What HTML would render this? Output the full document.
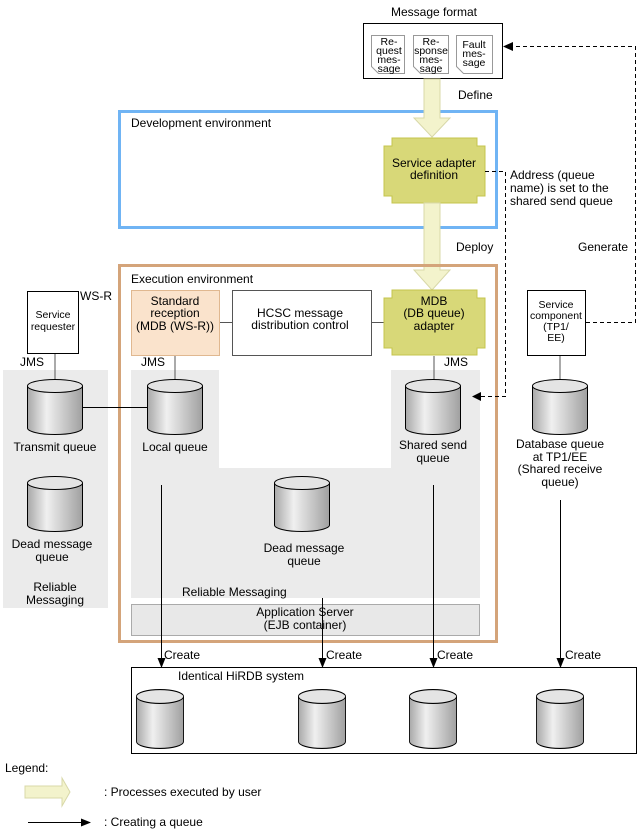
<!DOCTYPE html>
<html><head><meta charset="utf-8"><style>
html,body{margin:0;padding:0;background:#fff}
svg{display:block;font-family:"Liberation Sans",Arial,sans-serif;font-size:12px}
</style></head><body>
<svg width="639" height="831" viewBox="0 0 639 831" xmlns="http://www.w3.org/2000/svg">
<defs>
<linearGradient id="cg" x1="0" x2="1" y1="0" y2="0">
<stop offset="0" stop-color="#a8a8a8"/><stop offset="0.35" stop-color="#f0f0f0"/><stop offset="1" stop-color="#a0a0a0"/>
</linearGradient>
<marker id="ah" markerWidth="10" markerHeight="8" refX="9" refY="4" orient="auto" markerUnits="userSpaceOnUse"><path d="M0,0 L10,4 L0,8 z" fill="#000"/></marker>
<symbol id="cyl" viewBox="0 0 56 56" overflow="visible" preserveAspectRatio="none">
<path d="M0.5,7 L0.5,49 A27.5,6.5 0 0 0 55.5,49 L55.5,7" fill="url(#cg)" stroke="#000" stroke-width="1"/>
<ellipse cx="28" cy="7" rx="27.5" ry="6.5" fill="#e4e4e4" stroke="#000" stroke-width="1"/>
</symbol>
</defs>

<!-- Message format -->
<text x="434" y="16" text-anchor="middle">Message format</text>
<rect x="363.5" y="23.5" width="139" height="55" fill="#fff" stroke="#000"/>
<g fill="#fff" stroke="#999" stroke-width="1">
<path d="M371.5,35.5 H404.5 V73.5 H378.5 L371.5,66.5 Z"/>
<path d="M413.5,35.5 H448.5 V73.5 H420.5 L413.5,66.5 Z"/>
<path d="M456.5,35.5 H492.5 V73.5 H463.5 L456.5,66.5 Z"/>
</g>
<g font-size="10.5" text-anchor="middle">
<text x="389" y="45">Re-</text><text x="389" y="54">quest</text><text x="389" y="63">mes-</text><text x="389" y="72">sage</text>
<text x="431" y="45">Re-</text><text x="431" y="54">sponse</text><text x="431" y="63">mes-</text><text x="431" y="72">sage</text>
<text x="474" y="48">Fault</text><text x="474" y="57">mes-</text><text x="474" y="66">sage</text>
</g>

<!-- Dev env -->
<rect x="119.5" y="111.5" width="377" height="116" fill="none" stroke="#70b4f4" stroke-width="3"/>
<text x="131" y="127">Development environment</text>

<!-- Define arrow -->
<path d="M424,79 H440 V118 H450 L432,137 L414,118 H424 Z" fill="#f3f3cc" stroke="#d8d8a8"/>
<text x="458" y="99">Define</text>

<!-- Service adapter definition -->
<path d="M392,138 H477 V146 H485 V196 H477 V203 H392 V196 H384 V146 H392 Z" fill="#d8d878" stroke="#c4c44c"/>
<text x="434" y="167" text-anchor="middle">Service adapter</text>
<text x="434" y="179" text-anchor="middle">definition</text>

<!-- Deploy arrow -->
<path d="M424,203 H440 V270 H450 L432,290 L414,270 H424 Z" fill="#f3f3cc" stroke="#d8d8a8"/>
<text x="456" y="251">Deploy</text>
<text x="578" y="251">Generate</text>

<text x="510" y="179">Address (queue</text>
<text x="510" y="192">name) is set to the</text>
<text x="510" y="205">shared send queue</text>

<!-- Exec env -->
<rect x="119.5" y="265.5" width="377" height="376" fill="none" stroke="#d4a47a" stroke-width="3"/>
<text x="131" y="283">Execution environment</text>

<!-- gray inner regions -->
<path d="M131,370 H219 V468 H391 V370 H480 V598 H131 Z" fill="#ebebeb"/>
<rect x="3" y="370" width="105" height="238" fill="#ebebeb"/>
<rect x="131.5" y="604.5" width="348" height="31" fill="#e8e8e8" stroke="#aaa"/>
<text x="305" y="616" text-anchor="middle">Application Server</text>
<text x="305" y="629" text-anchor="middle">(EJB container)</text>
<text x="182" y="596">Reliable Messaging</text>

<!-- boxes -->
<rect x="131.5" y="290.5" width="88" height="65" fill="#fae3cc" stroke="#e0b890"/>
<text x="175" y="305" text-anchor="middle">Standard</text>
<text x="175" y="317" text-anchor="middle">reception</text>
<text x="175" y="330" text-anchor="middle">(MDB (WS-R))</text>
<line x1="220" y1="322.5" x2="232" y2="322.5" stroke="#555"/>
<rect x="232.5" y="290.5" width="139" height="65" fill="#fff" stroke="#555"/>
<text x="300" y="317" text-anchor="middle">HCSC message</text>
<text x="300" y="329" text-anchor="middle">distribution control</text>
<line x1="372" y1="322.5" x2="384" y2="322.5" stroke="#555"/>
<path d="M392,290 H477 V298 H485 V348 H477 V355 H392 V348 H384 V298 H392 Z" fill="#d8d878" stroke="#c4c44c"/>
<text x="434" y="305" text-anchor="middle">MDB</text>
<text x="434" y="317" text-anchor="middle">(DB queue)</text>
<text x="434" y="330" text-anchor="middle">adapter</text>

<rect x="27.5" y="291.5" width="51" height="62" fill="#fff" stroke="#000"/>
<text x="53" y="318" text-anchor="middle" font-size="10.5">Service</text>
<text x="53" y="330" text-anchor="middle" font-size="10.5">requester</text>
<text x="80" y="300">WS-R</text>
<text x="20" y="366">JMS</text>
<text x="141" y="366">JMS</text>
<text x="444" y="366">JMS</text>

<rect x="527.5" y="290.5" width="58" height="65" fill="#fff" stroke="#000"/>
<g font-size="10.5" text-anchor="middle">
<text x="556" y="308">Service</text><text x="556" y="319">component</text><text x="556" y="330">(TP1/</text><text x="556" y="341">EE)</text>
</g>

<!-- vertical connectors -->
<g stroke="#555">
<line x1="55" y1="354" x2="55" y2="382"/>
<line x1="175" y1="356" x2="175" y2="382"/>
<line x1="434" y1="356" x2="434" y2="382"/>
<line x1="560" y1="356" x2="560" y2="382"/>
<line x1="83" y1="407.5" x2="147" y2="407.5" stroke="#000"/>
</g>

<!-- cylinders -->
<use href="#cyl" x="27" y="379" width="56" height="56"/>
<use href="#cyl" x="147" y="379" width="56" height="56"/>
<use href="#cyl" x="405" y="379" width="56" height="56"/>
<use href="#cyl" x="532" y="379" width="56" height="56"/>
<use href="#cyl" x="27" y="476" width="56" height="56"/>
<use href="#cyl" x="274" y="476" width="56" height="56"/>

<g text-anchor="middle">
<text x="55" y="451">Transmit queue</text>
<text x="175" y="451">Local queue</text>
<text x="433" y="449">Shared send</text><text x="433" y="462">queue</text>
<text x="560" y="448">Database queue</text><text x="560" y="461">at TP1/EE</text><text x="560" y="473">(Shared receive</text><text x="560" y="486">queue)</text>
<text x="52" y="548">Dead message</text><text x="52" y="561">queue</text>
<text x="304" y="552">Dead message</text><text x="304" y="565">queue</text>
<text x="55" y="591">Reliable</text><text x="55" y="604">Messaging</text>
</g>

<!-- dashed -->
<g fill="none" stroke="#000" stroke-dasharray="4,3">
<path d="M485,171.5 H505.5 V396.5 H478"/>
<path d="M586,322.5 H635.5 V46.5 H512"/>
</g>
<path d="M472,396.5 L481,392 L481,401 Z"/>
<path d="M503,46.5 L513,42 L513,51 Z"/>

<!-- create arrows -->
<g stroke="#000">
<line x1="161.5" y1="485" x2="161.5" y2="667" marker-end="url(#ah)"/>
<line x1="322.5" y1="598" x2="322.5" y2="667" marker-end="url(#ah)"/>
<line x1="433.5" y1="485" x2="433.5" y2="667" marker-end="url(#ah)"/>
<line x1="560.5" y1="500" x2="560.5" y2="667" marker-end="url(#ah)"/>
</g>
<text x="164" y="659">Create</text>
<text x="326" y="659">Create</text>
<text x="437" y="659">Create</text>
<text x="565" y="659">Create</text>

<!-- HiRDB -->
<rect x="131.5" y="667.5" width="505" height="86" fill="#fff" stroke="#000"/>
<text x="178" y="680">Identical HiRDB system</text>
<use href="#cyl" x="136" y="689" width="48" height="60"/>
<use href="#cyl" x="298" y="689" width="48" height="60"/>
<use href="#cyl" x="409" y="689" width="48" height="60"/>
<use href="#cyl" x="536" y="689" width="48" height="60"/>

<!-- legend -->
<text x="5" y="772">Legend:</text>
<path d="M25,786 H62 V778 L70,792 L62,806 V798 H25 Z" fill="#f3f3cc" stroke="#d8d8a8"/>
<text x="104" y="796">: Processes executed by user</text>
<line x1="28" y1="822.5" x2="90" y2="822.5" stroke="#000" marker-end="url(#ah)"/>
<text x="104" y="826">: Creating a queue</text>
</svg>
</body></html>
